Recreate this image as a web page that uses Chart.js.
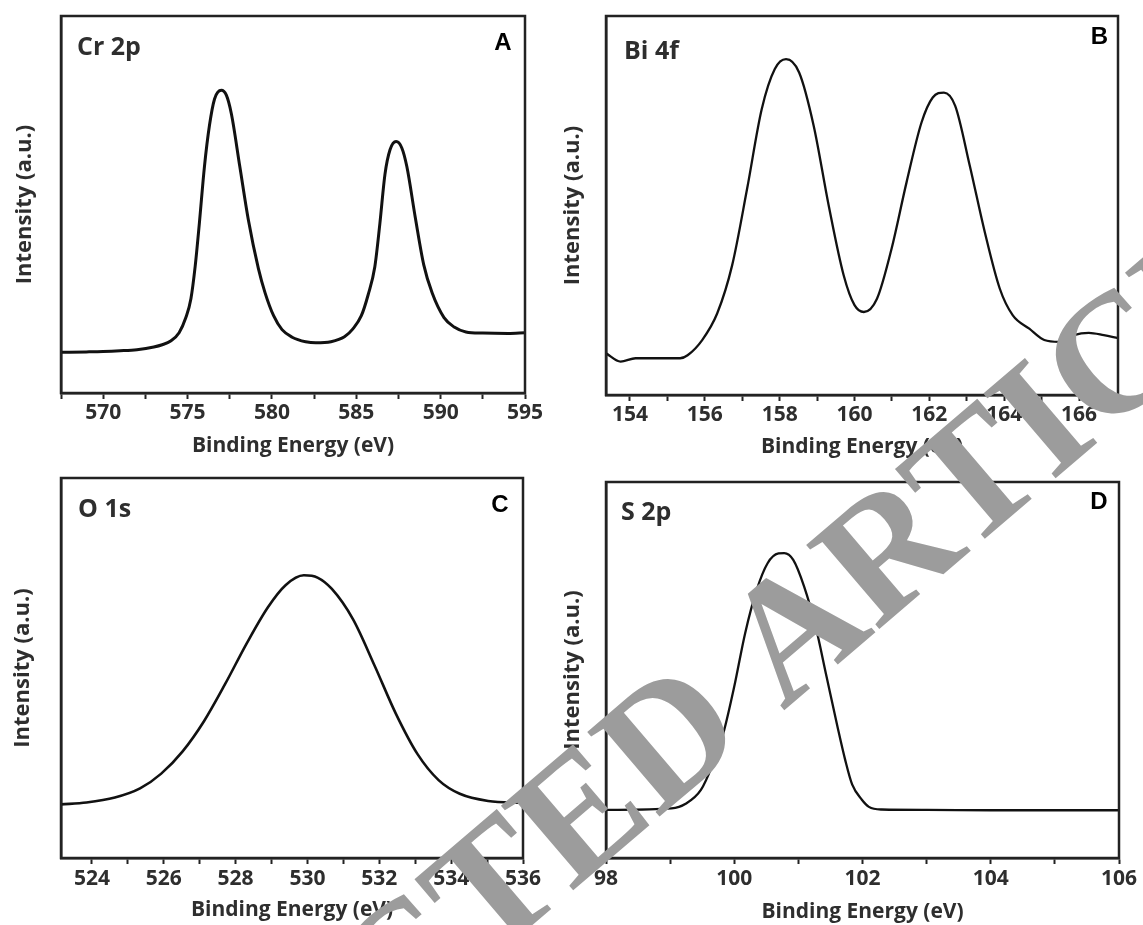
<!DOCTYPE html>
<html>
<head>
<meta charset="utf-8">
<script src="https://cdn.jsdelivr.net/npm/chart.js@4.4.1/dist/chart.umd.min.js"></script>
<style>
  html, body { margin: 0; padding: 0; background: #fff; }
  #wrap { position: relative; width: 1143px; height: 925px; overflow: hidden; background: #fff; }
  canvas.panel { position: absolute; }
  #stamp { position: absolute; left: 0; top: 0; pointer-events: none; }
</style>
</head>
<body>
<div id="wrap">
  <canvas id="panelA" class="panel" width="560" height="460" style="left:0;top:0"></canvas>
  <canvas id="panelB" class="panel" width="583" height="460" style="left:560px;top:0"></canvas>
  <canvas id="panelC" class="panel" width="560" height="465" style="left:0;top:460px"></canvas>
  <canvas id="panelD" class="panel" width="583" height="465" style="left:560px;top:460px"></canvas>
  <canvas id="stamp" width="1143" height="925"></canvas>
</div>
<script>
// Cr 2p
const crEnergy = [567.5, 569, 570, 571, 572, 573, 573.5, 574, 574.5, 574.9, 575.2, 575.45, 575.7, 576.0, 576.3, 576.6, 577.0, 577.3, 577.6, 578.1, 578.6, 579.2, 579.6, 580.1, 580.6, 581.2, 582, 582.6, 583.5, 584.3, 584.8, 585.3, 585.7, 586.1, 586.4, 586.7, 587.0, 587.36, 587.7, 588.0, 588.5, 589.0, 589.5, 590.2, 590.8, 591.5, 592.5, 594, 595];
const crIntensity = [10.8, 10.9, 11.0, 11.2, 11.5, 12.2, 12.8, 13.8, 16, 20, 25, 33.5, 45, 60, 71, 78, 80.3, 79, 74, 60, 46, 33, 26.5, 20.5, 16.8, 14.8, 13.6, 13.3, 13.6, 14.9, 17, 20.5, 26, 33.5, 45, 58, 64.5, 66.7, 65, 60, 46.5, 34, 26.5, 20, 17.5, 16.2, 15.9, 15.8, 16];
const crTicks = [570, 575, 580, 585, 590, 595];
const crMinorTicks = [567.5, 572.5, 577.5, 582.5, 587.5, 592.5];

// Bi 4f
const biEnergy = [153.36, 153.75, 154.15, 155.34, 155.54, 155.93, 156.33, 156.73, 157.13, 157.52, 157.87, 158.17, 158.52, 158.91, 159.31, 159.71, 160.0, 160.25, 160.6, 160.99, 161.39, 161.79, 162.09, 162.39, 162.69, 163.08, 163.48, 163.88, 164.23, 164.67, 165.07, 165.47, 165.86, 166.26, 166.66, 167.04];
const biIntensity = [11, 8.8, 9.7, 9.7, 10.5, 14.5, 21.5, 34.2, 54.4, 75.4, 86, 88.6, 85.1, 71, 50, 31.6, 23.7, 21.9, 25.4, 38.6, 56.1, 71.9, 78.5, 79.8, 76.3, 60.5, 43, 28.1, 21, 17.5, 14.5, 14, 15.8, 16.4, 15.8, 15];
const biTicks = [154, 156, 158, 160, 162, 164, 166];
const biMinorTicks = [155, 157, 159, 161, 163, 165, 167];

// O 1s
const oEnergy = [523.14, 523.85, 524.64, 525.34, 525.93, 526.52, 527.12, 527.71, 528.31, 528.9, 529.39, 529.9, 530.28, 530.68, 531.27, 531.87, 532.46, 533.06, 533.65, 534.24, 535.03, 536];
const oIntensity = [14.1, 14.6, 15.9, 18.3, 22.2, 28.0, 36.0, 45.8, 56.5, 66.0, 71.8, 74.4, 73.8, 70.8, 62.8, 50.6, 38.0, 27.4, 20.5, 16.9, 15.0, 14.5];
const oTicks = [524, 526, 528, 530, 532, 534, 536];
const oMinorTicks = [525, 527, 529, 531, 533, 535];

// S 2p
const sEnergy = [98.0, 99.02, 99.25, 99.48, 99.65, 99.83, 100.0, 100.17, 100.35, 100.52, 100.69, 100.78, 100.92, 101.09, 101.27, 101.44, 101.61, 101.73, 101.84, 101.99, 102.1, 102.3, 103, 104, 106];
const sIntensity = [12.8, 13.2, 14.5, 18.1, 24.3, 33.2, 45.6, 59.8, 71.3, 78.4, 81, 81.1, 79.3, 72.2, 61.5, 48.2, 34.9, 26.1, 19.5, 15.5, 13.6, 12.9, 12.8, 12.7, 12.7];
const sTicks = [98, 100, 102, 104, 106];
const sMinorTicks = [99, 101, 103, 105];

const AXIS = '#222';
const TEXT = '#2e2e2e';
const FONT = '"Open Sans"';

// cornice + etichette del pannello
const framePlugin = {
  id: 'frame',
  afterDraw(chart, args, opts) {
    const { ctx, chartArea: a } = chart;
    ctx.save();
    ctx.strokeStyle = AXIS;
    ctx.lineWidth = 2.5;
    ctx.strokeRect(a.left, a.top, a.right - a.left, a.bottom - a.top);
    ctx.textBaseline = 'middle';
    ctx.fillStyle = TEXT;
    ctx.font = 'bold 25px ' + FONT;
    ctx.textAlign = 'left';
    ctx.fillText(opts.name, a.left + opts.nameDx, a.top + opts.nameDy);
    ctx.fillStyle = '#000';
    ctx.font = 'bold 24px "Liberation Sans"';
    ctx.textAlign = 'center';
    ctx.fillText(opts.letter, a.right - opts.letterDx, a.top + opts.letterDy);
    ctx.restore();
  }
};

function makePanel(id, energy, intensity, majors, minors, box) {
  const allTicks = majors.concat(minors).sort((p, q) => p - q);
  return new Chart(document.getElementById(id), {
    type: 'line',
    data: {
      datasets: [{
        data: energy.map((e, i) => ({ x: e, y: intensity[i] })),
        borderColor: '#111',
        borderWidth: box.lineWidth,
        pointRadius: 0,
        cubicInterpolationMode: 'monotone',
        fill: false,
      }],
    },
    options: {
      responsive: false,
      animation: false,
      events: [],
      layout: { padding: { top: box.padTop, right: box.padRight, left: 0, bottom: 0 } },
      plugins: {
        legend: { display: false },
        tooltip: { enabled: false },
        frame: box.labels,
      },
      scales: {
        x: {
          type: 'linear',
          min: box.xMin,
          max: box.xMax,
          afterBuildTicks: scale => { scale.ticks = allTicks.map(v => ({ value: v })); },
          afterFit: scale => { scale.height = box.xAxisHeight; },
          ticks: {
            autoSkip: false,
            maxRotation: 0,
            padding: box.tickPad,
            color: TEXT,
            font: { family: FONT, weight: 'bold', size: 21 },
            callback: v => majors.includes(v) ? String(v) : '',
          },
          grid: { drawOnChartArea: false, drawTicks: true, tickLength: 6, tickColor: AXIS, tickWidth: 2 },
          border: { display: true, color: AXIS, width: 2.5 },
          title: {
            display: true,
            text: 'Binding Energy (eV)',
            color: TEXT,
            font: { family: FONT, weight: 'bold', size: 21 },
            padding: { top: 0, bottom: box.xTitlePad },
          },
        },
        y: {
          min: 0,
          max: 100,
          afterFit: scale => { scale.width = box.yAxisWidth; },
          ticks: { display: false },
          grid: { display: false, drawTicks: false },
          border: { display: true, color: AXIS, width: 2.5 },
          title: {
            display: true,
            text: 'Intensity (a.u.)',
            color: TEXT,
            font: { family: FONT, weight: 'bold', size: 22 },
            padding: { top: box.yTitlePad, bottom: 0 },
          },
        },
      },
    },
    plugins: [framePlugin],
  });
}

function drawStamp() {
  // timbro grigio diagonale
  const ctx = document.getElementById('stamp').getContext('2d');
  ctx.save();
  ctx.translate(-61, 1432);
  ctx.rotate(-40.5 * Math.PI / 180);
  ctx.fillStyle = '#9c9c9c';
  ctx.font = 'bold 170px "Liberation Serif"';
  ctx.textBaseline = 'alphabetic';
  ctx.fillText('RETRACTED ARTICLE', 0, 0);
  ctx.restore();
}

function drawAll() {
  makePanel('panelA', crEnergy, crIntensity, crTicks, crMinorTicks, {
    xMin: 567.5, xMax: 595, yAxisWidth: 61, xAxisHeight: 67, padTop: 16, padRight: 35,
    tickPad: 1.4, xTitlePad: 1.4, yTitlePad: 11.8, lineWidth: 3,
    labels: { name: 'Cr 2p', letter: 'A', nameDx: 16, nameDy: 32, letterDx: 22, letterDy: 27 },
  });
  makePanel('panelB', biEnergy, biIntensity, biTicks, biMinorTicks, {
    xMin: 153.36, xMax: 167.04, yAxisWidth: 46, xAxisHeight: 65, padTop: 16, padRight: 25,
    tickPad: 1.4, xTitlePad: 0.4, yTitlePad: 0, lineWidth: 2.3,
    labels: { name: 'Bi 4f', letter: 'B', nameDx: 18, nameDy: 36, letterDx: 18.5, letterDy: 21 },
  });
  makePanel('panelC', oEnergy, oIntensity, oTicks, oMinorTicks, {
    xMin: 523.14, xMax: 536, yAxisWidth: 61, xAxisHeight: 67, padTop: 18, padRight: 37,
    tickPad: 2.4, xTitlePad: 2.4, yTitlePad: 9.3, lineWidth: 2.6,
    labels: { name: 'O 1s', letter: 'C', nameDx: 17, nameDy: 32, letterDx: 23, letterDy: 27 },
  });
  makePanel('panelD', sEnergy, sIntensity, sTicks, sMinorTicks, {
    xMin: 98, xMax: 106, yAxisWidth: 46, xAxisHeight: 67, padTop: 22, padRight: 24,
    tickPad: 2.4, xTitlePad: 0.4, yTitlePad: 0, lineWidth: 2.3,
    labels: { name: 'S 2p', letter: 'D', nameDx: 15, nameDy: 31, letterDx: 20, letterDy: 20 },
  });
  drawStamp();
}

Promise.all([
  document.fonts.load('bold 21px "Open Sans"'),
  document.fonts.load('bold 24px "Liberation Sans"'),
  document.fonts.load('bold 170px "Liberation Serif"'),
]).then(drawAll, drawAll);
</script>
</body>
</html>
